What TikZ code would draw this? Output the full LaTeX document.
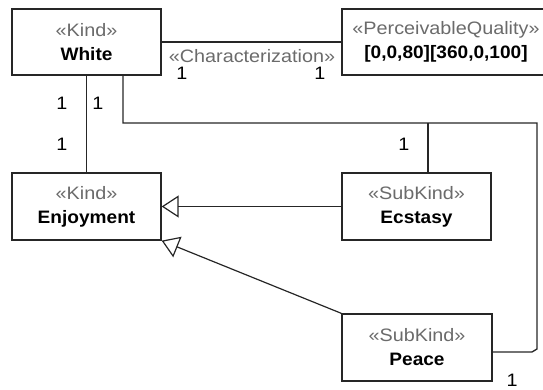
\documentclass[tikz,border=0pt]{standalone}
\usepackage{fontspec}
\setmainfont{Liberation Sans}[FakeStretch=1.1, BoldFeatures={FakeStretch=1.06}]
\usetikzlibrary{arrows.meta}
\definecolor{stereo}{gray}{0.42}
\definecolor{ink}{gray}{0.15}
\newcommand\umlst[1]{{\color{stereo}«#1»}}
\newcommand\umlnm[1]{{\bfseries #1}}
\tikzset{
  cls/.style={draw=ink, line width=1.3pt, fill=white, inner sep=0pt,
    minimum height=66pt, align=center,
    font=\fontsize{18}{24}\selectfont},
  assoc/.style={draw=ink, line width=1.3pt},
  gen/.style={draw=ink, line width=1.2pt,
    -{Triangle[open, length=17pt, width=22pt, line width=1.2pt]}},
  mult/.style={anchor=base, inner sep=0pt, font=\fontsize{18}{20}\selectfont}
}
\begin{document}
\begin{tikzpicture}[x=1pt, y=-1pt]
  \useasboundingbox (0,0) rectangle (543,390);

  % classes
  \node[cls, minimum width=149pt] (white) at (86.5,42) {\umlst{Kind}\\\umlnm{White}};
  \node[cls, minimum width=208pt] (pq) at (446,42) {\umlst{PerceivableQuality}\\\umlnm{[0,0,80][360,0,100]}};
  \node[cls, minimum width=149pt, minimum height=67pt] (enjoy) at (86.5,206.5) {\umlst{Kind}\\\umlnm{Enjoyment}};
  \node[cls, minimum width=149pt, minimum height=67pt] (ecstasy) at (416.5,206.5) {\umlst{SubKind}\\\umlnm{Ecstasy}};
  \node[cls, minimum width=150pt, minimum height=67pt] (peace) at (417,347.5) {\umlst{SubKind}\\\umlnm{Peace}};

  % bends of the shared association path
  \coordinate (j1) at (123,123);
  \coordinate (j2) at (428,123);
  \coordinate (j3) at (537,123);
  \coordinate (j4) at (537,349);
  \coordinate (j5) at (532,352);

  % characterization
  \draw[assoc] (white.east) -- (pq.west);
  \node[mult] (charlbl) at (252,63) {\umlst{Characterization}};
  \node[mult] (cm1) at (182,80) {1};
  \node[mult] (cm2) at (320,80) {1};

  % White -- Enjoyment
  \draw[assoc] (white.south) -- (enjoy.north);
  \node[mult] (em1) at (62,110) {1};
  \node[mult] (em2) at (62,151) {1};

  % White -- Ecstasy / Peace
  \draw[assoc] (white.south -| j1) -- (j1) -- (j3) -- (j4) -- (j5) -- (peace.east |- j5);
  \draw[assoc] (j2) -- (ecstasy.north -| j2);
  \node[mult] (wm) at (98,110) {1};
  \node[mult] (xm) at (404,151) {1};
  \node[mult] (pm) at (512,386.5) {1};

  % generalizations
  \draw[gen] (ecstasy.west) -- (enjoy.east);
  \draw[gen] (peace.north west) -- (enjoy.south east);
\end{tikzpicture}
\end{document}
